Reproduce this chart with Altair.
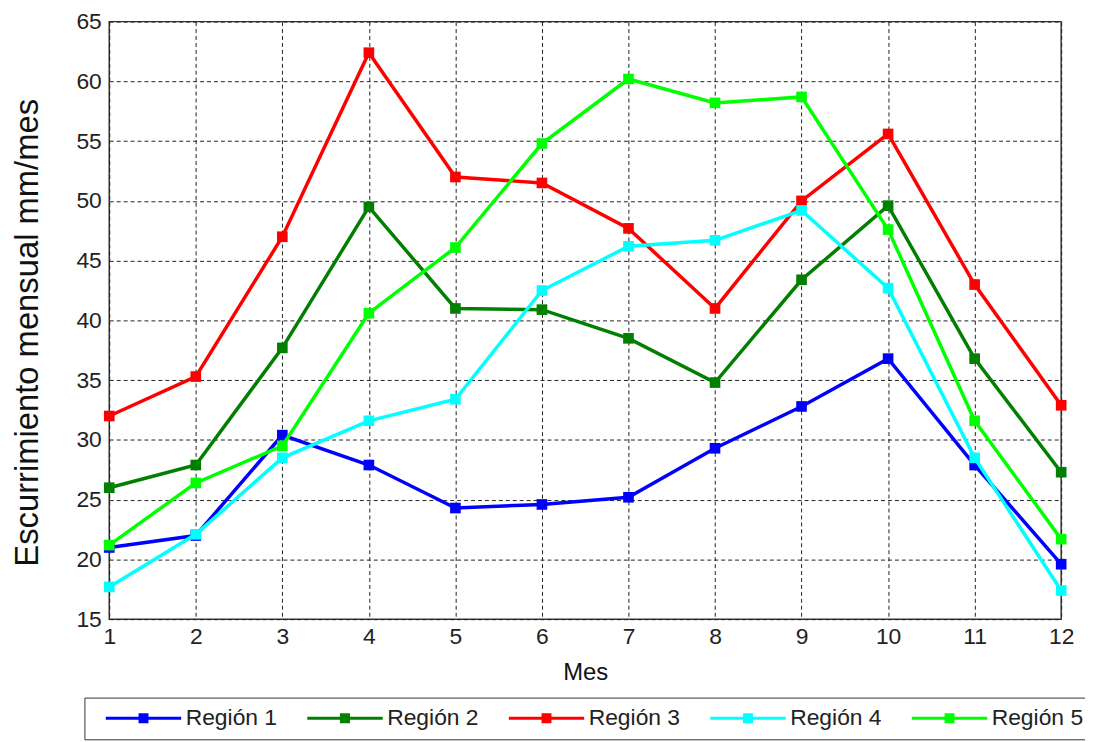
import altair as alt
import pandas as pd

meses = list(range(1, 13))
regiones = ["Región 1", "Región 2", "Región 3", "Región 4", "Región 5"]
colores = ["#0000ff", "#007f00", "#ff0000", "#00ffff", "#00ff00"]

region1 = [21.0, 22.0, 30.4, 27.9, 24.3, 24.6, 25.2, 29.3, 32.8, 36.8, 27.9, 19.6]
region2 = [26.0, 27.9, 37.7, 49.5, 41.0, 40.9, 38.5, 34.8, 43.4, 49.6, 36.8, 27.3]
region3 = [32.0, 35.3, 47.0, 62.4, 52.0, 51.5, 47.7, 41.0, 50.0, 55.6, 43.0, 32.9]
region4 = [17.7, 22.1, 28.5, 31.6, 33.4, 42.5, 46.2, 46.7, 49.2, 42.7, 28.5, 17.4]
region5 = [21.2, 26.4, 29.5, 40.6, 46.1, 54.8, 60.2, 58.2, 58.7, 47.6, 31.6, 21.7]

series = [region1, region2, region3, region4, region5]
rows = []
for name, vals in zip(regiones, series):
    for m, v in zip(meses, vals):
        rows.append({"Mes": m, "Valor": v, "Region": name})
df = pd.DataFrame(rows)

FONT = "Liberation Sans"
# line with a solid square marker, drawn by stroke (units of 6 px)
legend_path = ("M-6.33,0H6.33"
               "M-0.583,-0.583H0.583V0.583H-0.583Z"
               "M-0.2,-0.2H0.2V0.2H-0.2Z")

color = alt.Color(
    "Region:N",
    scale=alt.Scale(domain=regiones, range=colores),
    legend=alt.Legend(
        title=None,
        orient="none",
        legendX=-25,
        legendY=681,
        direction="horizontal",
        columns=5,
        symbolType=legend_path,
        symbolSize=144,
        symbolStrokeWidth=3,
        symbolOffset=39,
        labelFont=FONT,
        labelFontSize=23,
        labelColor="#222222",
        labelOffset=31,
        columnPadding=17,
        padding=9,
        strokeColor="#333333",
        fillColor="white",
        gridAlign="all",
    ),
)

x = alt.X(
    "Mes:Q",
    scale=alt.Scale(domain=[1, 12], nice=False, zero=False),
    axis=alt.Axis(values=meses, title="Mes", titleX=479.5, titleY=61,
                  titleBaseline="alphabetic", labelPadding=6),
)
y = alt.Y(
    "Valor:Q",
    scale=alt.Scale(domain=[15, 65], nice=False, zero=False),
    axis=alt.Axis(values=list(range(15, 70, 5)), title="Escurrimiento mensual mm/mes",
                  titleX=-72, titleY=313, titleAngle=270, titleBaseline="alphabetic",
                  titleAlign="center", titleFontSize=33, labelPadding=8),
)

base = alt.Chart(df)
layers = []
for name in regiones:
    sub = base.transform_filter(alt.datum.Region == name)
    layers.append(
        sub.mark_line(
            strokeWidth=3.5,
            point=alt.OverlayMarkDef(shape="square", filled=True, size=115, opacity=1),
        ).encode(x=x, y=y, color=color)
    )

chart = alt.layer(*layers).properties(
    width=959,
    height=602,
    autosize=alt.AutoSizeParams(type="none"),
    padding={"left": 102, "top": 11, "right": 24, "bottom": 121},
).configure_view(
    stroke="#333333", strokeWidth=1.5
).configure_axis(
    labelFont=FONT,
    labelFontSize=23,
    labelColor="#222222",
    titleFont=FONT,
    titleFontSize=24,
    titleColor="#111111",
    titleFontWeight="normal",
    grid=True,
    gridColor="#222222",
    gridDash=[4, 3],
    gridWidth=1,
    gridOpacity=1,
    domain=False,
    ticks=False,
    labelFlush=False,
    labelOverlap=False,
)

chart.save("out.html", embed_options={"renderer": "svg", "actions": False})
